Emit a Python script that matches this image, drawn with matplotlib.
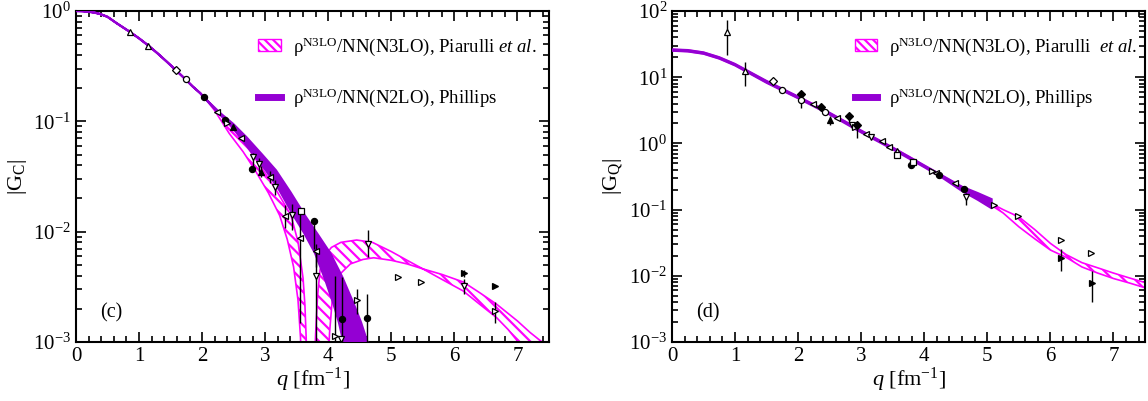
import numpy as np
import matplotlib
matplotlib.use("Agg")
import matplotlib.pyplot as plt
from matplotlib.patches import Patch
from matplotlib.lines import Line2D
from matplotlib.ticker import MultipleLocator, LogLocator, NullFormatter

plt.rcParams['font.family'] = ['Liberation Serif', 'DejaVu Serif']
plt.rcParams['mathtext.fontset'] = 'custom'
plt.rcParams['mathtext.rm'] = 'Liberation Serif'
plt.rcParams['mathtext.it'] = 'Liberation Serif:italic'
plt.rcParams['mathtext.bf'] = 'Liberation Serif:bold'
plt.rcParams['hatch.linewidth'] = 1.6

MAGENTA = '#ff00ff'
PURPLE = '#9400d3'

# ---------------- Left panel: |G_C| ----------------
# common low-q part of both bands
gc_center_q = [0.0, 0.1, 0.2, 0.3, 0.38, 0.5, 0.646, 0.857, 1.0, 1.15, 1.3, 1.44, 1.587, 1.73, 1.85, 1.97, 2.06]
gc_center_G = [1.0, 0.996, 0.985, 0.965, 0.94, 0.885, 0.774, 0.645, 0.565, 0.485, 0.41, 0.347, 0.29, 0.242, 0.207, 0.18, 0.158]

# Piarulli band, first lobe (before the zero)
pia1_up_q = [2.3, 2.55, 2.75, 2.97, 3.2, 3.41, 3.52, 3.6, 3.63, 3.65, 3.66]
pia1_up_G = [0.113, 0.0776, 0.055, 0.036, 0.0225, 0.014, 0.0081, 0.0038, 0.00215, 0.00108, 0.00054]
pia1_lo_q = [2.2, 2.43, 2.65, 2.84, 3.05, 3.23, 3.35, 3.45, 3.52, 3.56, 3.575]
pia1_lo_G = [0.125, 0.0776, 0.053, 0.036, 0.0225, 0.014, 0.0085, 0.0048, 0.0024, 0.0011, 0.0005]

# Piarulli band, second lobe (after the zero)
pia2_a_q = [3.775, 3.8, 3.83, 3.87, 3.95, 4.05, 4.2, 4.45, 4.7, 5.0, 5.25, 5.5, 5.8, 6.14, 6.4, 6.67, 6.85, 7.0, 7.05]
pia2_a_G = [0.0005, 0.0012, 0.0026, 0.0045, 0.0061, 0.0072, 0.008, 0.0084, 0.008, 0.0066, 0.0055, 0.0046, 0.0037, 0.0029, 0.0022, 0.00166, 0.0013, 0.00102, 0.0009]
pia2_b_q = [3.99, 4.02, 4.06, 4.12, 4.2, 4.35, 4.55, 4.72, 5.0, 5.25, 5.5, 5.8, 6.14, 6.4, 6.67, 7.0, 7.2, 7.39, 7.45]
pia2_b_G = [0.0005, 0.0012, 0.0023, 0.0034, 0.0042, 0.0051, 0.0056, 0.0058, 0.0055, 0.0051, 0.0046, 0.0041, 0.0035, 0.0028, 0.0022, 0.00155, 0.00122, 0.001, 0.00093]

# Phillips band
phi_up_q = [2.3, 2.49, 2.7, 2.95, 3.17, 3.4, 3.63, 3.83, 4.03, 4.22, 4.4, 4.52, 4.62, 4.66]
phi_up_G = [0.117, 0.095, 0.072, 0.05, 0.036, 0.0228, 0.014, 0.0095, 0.0064, 0.0039, 0.00224, 0.0015, 0.001, 0.0008]
phi_lo_q = [2.25, 2.49, 2.56, 2.78, 3.01, 3.23, 3.45, 3.62, 3.79, 3.95, 4.08, 4.17, 4.24, 4.27]
phi_lo_G = [0.12, 0.088, 0.0776, 0.053, 0.036, 0.0235, 0.014, 0.0097, 0.0064, 0.0037, 0.00224, 0.0015, 0.001, 0.0008]

# experimental data |G_C|
gc_q   = [0.85, 1.147, 1.59, 1.74, 2.03, 2.23, 2.36, 2.40, 2.49, 2.61, 2.79, 2.81, 2.90, 2.93, 3.07, 3.15, 3.31, 3.43, 3.56, 3.55, 3.78, 3.81, 3.81, 4.10, 4.20, 4.22, 4.46, 4.62, 4.63, 5.10, 5.47, 6.16, 6.16, 6.65, 6.65]
gc_val = [0.64, 0.48, 0.29, 0.24, 0.165, 0.122, 0.103, 0.096, 0.088, 0.071, 0.037, 0.048, 0.041, 0.035, 0.0314, 0.0256, 0.0138, 0.0143, 0.0153, 0.0087, 0.0124, 0.0067, 0.0040, 0.00113, 0.00107, 0.0016, 0.0024, 0.00165, 0.0078, 0.0039, 0.0035, 0.0042, 0.0032, 0.0032, 0.0019]
gc_elo = [0, 0, 0, 0, 0, 0, 0, 0, 0, 0, 0, 0.011, 0.006, 0.004, 0.004, 0.004, 0.003, 0.004, 0, 0.0072, 0.0054, 0.0019, 0.0035, 0.0008, 0, 0.0012, 0.0006, 0.0012, 0.0019, 0, 0, 0.0003, 0.0005, 0, 0.0004]
gc_ehi = [0, 0, 0, 0, 0, 0, 0, 0, 0, 0, 0, 0.004, 0.006, 0.004, 0.004, 0.004, 0.0036, 0.0037, 0, 0.0072, 0.001, 0.0011, 0.003, 0.0028, 0, 0.0023, 0.00065, 0.0011, 0.0025, 0, 0, 0.0003, 0.0005, 0, 0.0004]
gc_mark = ['^', '^', 'D', 'o', 'o', '<', 'o', '>', '^', '<', 'o', 'v', 'v', '^', '<', 'v', '<', 'v', 's', '<', 'o', '<', 'v', '>', 'v', 'o', '>', 'o', 'v', '>', '>', '>', 'v', '>', '>']
gc_fill = [0, 0, 0, 0, 1, 0, 1, 0, 1, 0, 1, 0, 0, 1, 0, 0, 0, 0, 0, 0, 1, 0, 0, 0, 0, 1, 0, 1, 0, 0, 0, 1, 0, 1, 0]

# ---------------- Right panel: |G_Q| ----------------
gq_band_q = [0.0, 0.25, 0.5, 0.75, 1.0, 1.25, 1.5, 1.75, 2.0, 2.25, 2.5, 2.75, 3.0, 3.25, 3.5, 3.75, 4.0, 4.25, 4.5, 4.75, 5.0, 5.25, 5.5, 5.75, 6.0, 6.25, 6.5, 6.75, 7.0, 7.25, 7.5]
gq_pia_up = [26.3, 25.7, 23.7, 20.0, 15.8, 11.7, 8.71, 6.61, 5.07, 3.89, 2.88, 2.14, 1.55, 1.16, 0.861, 0.638, 0.462, 0.339, 0.248, 0.182, 0.133, 0.100, 0.0776, 0.0501, 0.0309, 0.0209, 0.0158, 0.0132, 0.011, 0.0093, 0.0079]
gq_pia_lo = [25.1, 24.5, 22.6, 19.1, 15.1, 11.2, 8.32, 6.31, 4.84, 3.72, 2.75, 2.04, 1.48, 1.11, 0.822, 0.61, 0.442, 0.324, 0.237, 0.174, 0.127, 0.089, 0.055, 0.0363, 0.0245, 0.019, 0.0136, 0.011, 0.0091, 0.0078, 0.0066]

gq_phi_q  = [0.0, 0.25, 0.5, 0.75, 1.0, 1.5, 2.0, 2.5, 3.0, 3.5, 4.0, 4.3, 4.6, 4.85, 5.07]
gq_phi_up = [26.4, 25.8, 23.8, 20.1, 15.9, 8.8, 5.12, 2.91, 1.57, 0.87, 0.467, 0.322, 0.222, 0.178, 0.144]
gq_phi_lo = [25.0, 24.4, 22.5, 19.0, 15.0, 8.2, 4.79, 2.72, 1.46, 0.81, 0.436, 0.296, 0.19, 0.14, 0.104]

gq_q   = [0.871, 1.15, 1.60, 1.75, 2.04, 2.04, 2.24, 2.36, 2.42, 2.51, 2.61, 2.80, 2.85, 2.90, 2.93, 3.07, 3.16, 3.33, 3.44, 3.57, 3.57, 3.79, 3.82, 4.12, 4.18, 4.23, 4.48, 4.63, 4.66, 5.10, 5.49, 6.17, 6.17, 6.65, 6.66]
gq_val = [48.7, 12.4, 8.75, 6.4, 5.56, 4.5, 3.88, 3.49, 3.0, 2.25, 2.38, 2.58, 1.89, 1.78, 1.89, 1.38, 1.26, 1.08, 0.89, 0.773, 0.665, 0.48, 0.527, 0.381, 0.359, 0.331, 0.248, 0.208, 0.156, 0.119, 0.0795, 0.0344, 0.0188, 0.0224, 0.0078]
gq_elo = [27, 5.1, 0, 0.6, 0.5, 1.1, 0, 0.3, 0, 0.35, 0, 0.5, 0, 0, 0.7, 0, 0, 0, 0, 0, 0, 0, 0, 0, 0, 0, 0, 0, 0.04, 0, 0, 0, 0.0069, 0, 0.0038]
gq_ehi = [24, 4.7, 0, 0.6, 0.6, 0.3, 0, 0.3, 0, 0.35, 0, 0.2, 0, 0, 0.15, 0, 0, 0, 0, 0, 0, 0, 0, 0, 0, 0, 0, 0, 0.02, 0, 0, 0, 0.007, 0, 0.0041]
gq_mark = ['^', '^', 'D', 'o', 'D', 'o', '<', 'D', 'o', '^', '<', 'D', 'v', '>', 'D', '<', 'v', '<', '<', '^', 's', 'o', 's', '>', '<', 'o', '<', 'o', 'v', '>', '>', '>', '>', '>', '>']
gq_fill = [0, 0, 0, 0, 1, 0, 0, 1, 0, 1, 0, 1, 0, 0, 1, 0, 0, 0, 0, 0, 0, 1, 0, 0, 0, 1, 0, 1, 0, 0, 0, 0, 1, 0, 1]

legend_labels = ['ρ$^{\\rm N3LO}$/NN(N3LO), Piarulli $\\it{et\\ al.}$',
                 'ρ$^{\\rm N3LO}$/NN(N2LO), Phillips']
legend_labels_right = ['ρ$^{\\rm N3LO}$/NN(N3LO), Piarulli  $\\it{et\\ al.}$',
                       'ρ$^{\\rm N3LO}$/NN(N2LO), Phillips']

W, H = 1148, 401
fig = plt.figure(figsize=(W / 100, H / 100), dpi=100)
axL = fig.add_axes([76 / W, 1 - 342 / H, (549 - 76) / W, (342 - 11) / H])
axR = fig.add_axes([672 / W, 1 - 342 / H, (1145 - 672) / W, (342 - 11) / H])


def band(ax, up_q, up_G, lo_q, lo_G, color, hatch=None, lw=1.2, z=2):
    xs = list(up_q) + list(lo_q)[::-1]
    ys = list(up_G) + list(lo_G)[::-1]
    if hatch:
        ax.fill(xs, ys, facecolor='white', edgecolor=color, hatch=hatch, linewidth=0, zorder=z)
        ax.fill(xs, ys, facecolor='none', edgecolor=color, linewidth=lw, zorder=z + 0.1)
    else:
        ax.fill(xs, ys, facecolor=color, edgecolor=color, linewidth=lw, zorder=z)


def points(ax, q, v, elo, ehi, mk, fl):
    for i in range(len(q)):
        if elo[i] > 0 or ehi[i] > 0:
            ax.errorbar([q[i]], [v[i]], yerr=[[elo[i]], [ehi[i]]], fmt='none',
                        ecolor='black', elinewidth=1.0, capsize=0, zorder=5)
        ax.plot([q[i]], [v[i]], linestyle='none', marker=mk[i], markersize=4.4,
                markeredgecolor='black', markeredgewidth=0.9,
                markerfacecolor='black' if fl[i] else 'white', zorder=6)


# left panel bands
band(axL, gc_center_q + pia1_up_q, gc_center_G + pia1_up_G,
     gc_center_q + pia1_lo_q, gc_center_G + pia1_lo_G, MAGENTA, hatch='\\\\\\', z=2)
band(axL, pia2_a_q, pia2_a_G, pia2_b_q, pia2_b_G, MAGENTA, hatch='\\\\\\', z=2)
band(axL, gc_center_q + phi_up_q, gc_center_G + phi_up_G,
     gc_center_q + phi_lo_q, gc_center_G + phi_lo_G, PURPLE, lw=1.6, z=3)
points(axL, gc_q, gc_val, gc_elo, gc_ehi, gc_mark, gc_fill)

# right panel bands
band(axR, gq_band_q, gq_pia_up, gq_band_q, gq_pia_lo, MAGENTA, hatch='\\\\\\', z=2)
band(axR, gq_phi_q, gq_phi_up, gq_phi_q, gq_phi_lo, PURPLE, lw=1.4, z=3)
points(axR, gq_q, gq_val, gq_elo, gq_ehi, gq_mark, gq_fill)

for ax, ylim, ylab, tag, labels, anchor in [
        (axL, (1e-3, 1.0), r'$|{\rm G_C}|$', '(c)', legend_labels, (0.99, 0.95)),
        (axR, (1e-3, 1e2), r'$|{\rm G_Q}|$', '(d)', legend_labels_right, (1.0, 0.95))]:
    ax.set_yscale('log')
    ax.set_xlim(0, 7.5)
    ax.set_ylim(*ylim)
    ax.xaxis.set_major_locator(MultipleLocator(1))
    ax.xaxis.set_minor_locator(MultipleLocator(0.2))
    ax.yaxis.set_major_locator(LogLocator(base=10, numticks=10))
    ax.yaxis.set_minor_locator(LogLocator(base=10, subs=np.arange(2, 10), numticks=10))
    ax.yaxis.set_minor_formatter(NullFormatter())
    ax.tick_params(which='both', direction='in', top=True, right=True, labelsize=15, width=1.2)
    ax.tick_params(which='major', length=7)
    ax.tick_params(which='minor', length=4)
    for s in ax.spines.values():
        s.set_linewidth(1.5)
    ax.set_xlabel(r'$q$ [fm$^{-1}$]', fontsize=16, labelpad=0)
    ax.set_ylabel(ylab, fontsize=16, labelpad=3)
    ax.text(0.075, 0.087, tag, transform=ax.transAxes, fontsize=14.5, ha='center', va='center')
    handles = [Patch(facecolor='white', edgecolor=MAGENTA, hatch='\\\\\\\\', linewidth=1.0),
               Line2D([0], [0], color=PURPLE, linewidth=5)]
    ax.legend(handles, labels, loc='upper right', frameon=False, fontsize=13.5,
              labelspacing=1.55, handlelength=1.2, handleheight=0.6, handletextpad=0.65,
              borderaxespad=0.0, bbox_to_anchor=anchor)

fig.savefig('out.png', dpi=100)
